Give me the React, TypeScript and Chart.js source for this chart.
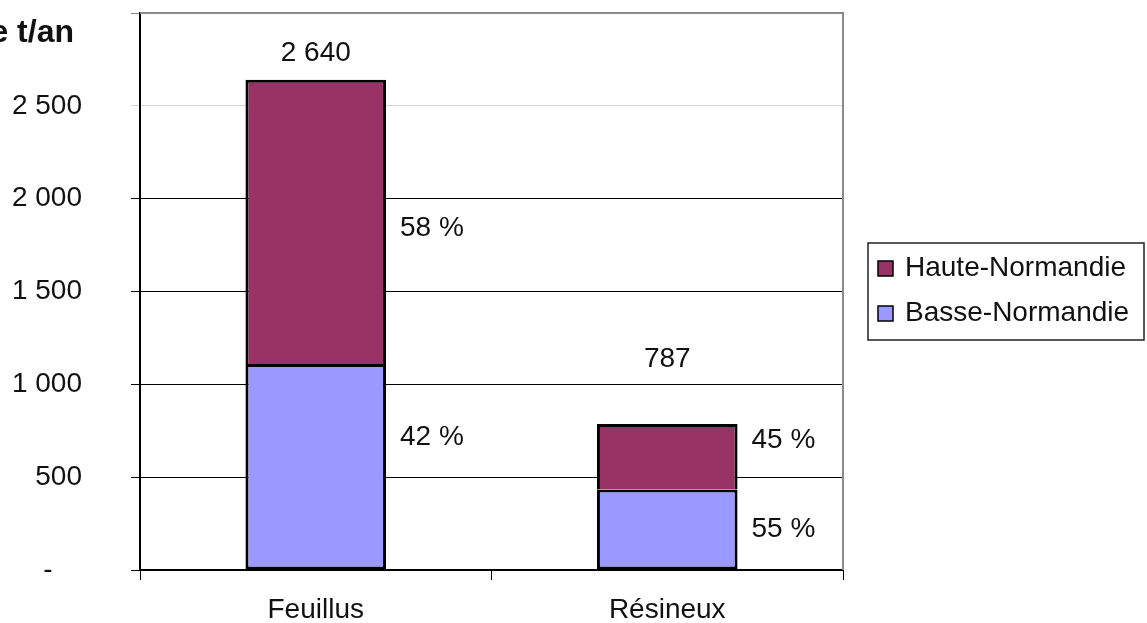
import { useEffect, useRef } from "react";
import { Chart, registerables } from "chart.js";

Chart.register(...registerables);

const categories = ["Feuillus", "Résineux"];
const seriesNames = ["Haute-Normandie", "Basse-Normandie"];
const hauteNormandie = [1531, 354];
const basseNormandie = [1109, 433];
const totals = [2640, 787];
const yTickValues = [0, 500, 1000, 1500, 2000, 2500, 3000];
const yTickLabels = ["-", "500", "1 000", "1 500", "2 000", "2 500", ""];
const yAxisTitle = "Milliers de t/an";

const COLORS = { haute: "#993366", basse: "#9999FF" };
const FONT = "'Liberation Sans', Arial, sans-serif";

const fmt = (v: number) => String(v).replace(/\B(?=(\d{3})+(?!\d))/g, " ");

const overlay = {
  id: "overlay",
  afterDraw(chart: any) {
    const ctx = chart.ctx as CanvasRenderingContext2D;
    const area = chart.chartArea;
    const ys = chart.scales.y;
    ctx.save();
    // plot frame (top & right)
    ctx.strokeStyle = "#8a8a8a";
    ctx.lineWidth = 2;
    ctx.beginPath();
    ctx.moveTo(area.left, area.top);
    ctx.lineTo(area.right, area.top);
    ctx.lineTo(area.right, area.bottom);
    ctx.stroke();

    ctx.fillStyle = "#111";
    ctx.textBaseline = "middle";
    // y tick labels
    ctx.font = `28px ${FONT}`;
    yTickValues.forEach((v, i) => {
      const py = ys.getPixelForValue(v);
      const label = yTickLabels[i];
      if (!label) return;
      if (label === "-") {
        ctx.textAlign = "center";
        ctx.fillText(label, area.left - 92, py);
      } else {
        ctx.textAlign = "right";
        ctx.fillText(label, area.left - 58, py);
      }
    });

    // axis title
    ctx.font = `bold 32px ${FONT}`;
    ctx.textAlign = "right";
    ctx.fillText(yAxisTitle, area.left - 66, 33);

    // value labels
    ctx.font = `28px ${FONT}`;
    const metaB = chart.getDatasetMeta(0);
    const metaH = chart.getDatasetMeta(1);
    const totalDy = [27, 65];
    const hDy = [6, -16];
    const bDy = [-30, 0];
    categories.forEach((_, j) => {
      const eb = metaB.data[j];
      const eh = metaH.data[j];
      const right = eh.x + eh.width / 2;
      ctx.textAlign = "center";
      ctx.fillText(fmt(totals[j]), eh.x, eh.y - totalDy[j]);
      ctx.textAlign = "left";
      const hp = Math.round((hauteNormandie[j] / totals[j]) * 100);
      const bp = Math.round((basseNormandie[j] / totals[j]) * 100);
      ctx.fillText(`${hp} %`, right + 14, (eh.y + eh.base) / 2 + hDy[j]);
      ctx.fillText(`${bp} %`, right + 14, (eb.y + eb.base) / 2 + bDy[j]);
    });

    // legend
    const lx = 868, ly = 243, lw = 276, lh = 97;
    ctx.strokeStyle = "#222";
    ctx.lineWidth = 1.5;
    ctx.strokeRect(lx, ly, lw, lh);
    const items = [
      { name: seriesNames[0], color: COLORS.haute, cy: 268 },
      { name: seriesNames[1], color: COLORS.basse, cy: 313 },
    ];
    items.forEach((it) => {
      ctx.fillStyle = it.color;
      ctx.fillRect(878, it.cy - 7, 15, 15);
      ctx.strokeStyle = "#000";
      ctx.lineWidth = 1.5;
      ctx.strokeRect(878, it.cy - 7, 15, 15);
      ctx.fillStyle = "#111";
      ctx.textAlign = "left";
      ctx.font = `28px ${FONT}`;
      ctx.fillText(it.name, 905, it.cy);
    });
    ctx.restore();
  },
};

export default function App() {
  const ref = useRef<HTMLCanvasElement | null>(null);
  useEffect(() => {
    if (!ref.current) return;
    const chart = new Chart(ref.current, {
      type: "bar",
      data: {
        labels: categories,
        datasets: [
          {
            label: seriesNames[1],
            data: basseNormandie,
            backgroundColor: COLORS.basse,
            borderColor: "#000",
            borderWidth: 3,
            borderSkipped: false,
          },
          {
            label: seriesNames[0],
            data: hauteNormandie,
            backgroundColor: COLORS.haute,
            borderColor: "#000",
            borderWidth: 3,
          },
        ],
      },
      options: {
        animation: false,
        responsive: false,
        devicePixelRatio: 1,
        barPercentage: 0.4,
        categoryPercentage: 1,
        layout: { padding: { left: 0, top: 13, right: 304, bottom: 0 } },
        plugins: { legend: { display: false }, tooltip: { enabled: false } },
        scales: {
          x: {
            stacked: true,
            afterFit: (s: any) => {
              s.height = 53;
            },
            grid: {
              offset: true,
              drawOnChartArea: false,
              drawTicks: true,
              tickLength: 10,
              color: "#000",
            },
            border: { color: "#000", width: 2 },
            ticks: { color: "#111", font: { family: FONT, size: 28 }, padding: 13 },
          },
          y: {
            stacked: true,
            min: 0,
            max: 3000,
            afterBuildTicks: (s: any) => {
              s.ticks = yTickValues.map((v) => ({ value: v }));
            },
            afterFit: (s: any) => {
              s.width = 140;
            },
            ticks: { display: false },
            grid: {
              drawTicks: true,
              tickLength: 9,
              color: (c: any) =>
                c.tick && c.tick.value === 2500
                  ? "#d4d4d4"
                  : c.tick && c.tick.value === 3000
                  ? "#8a8a8a"
                  : "#000",
              lineWidth: 1,
            },
            border: { color: "#000", width: 2 },
          },
        },
      },
      plugins: [overlay],
    });
    return () => chart.destroy();
  }, []);
  return (
    <div style={{ position: "absolute", left: 0, top: 0, width: 1147, height: 623, background: "#fff" }}>
      <canvas ref={ref} width={1147} height={623} />
    </div>
  );
}
